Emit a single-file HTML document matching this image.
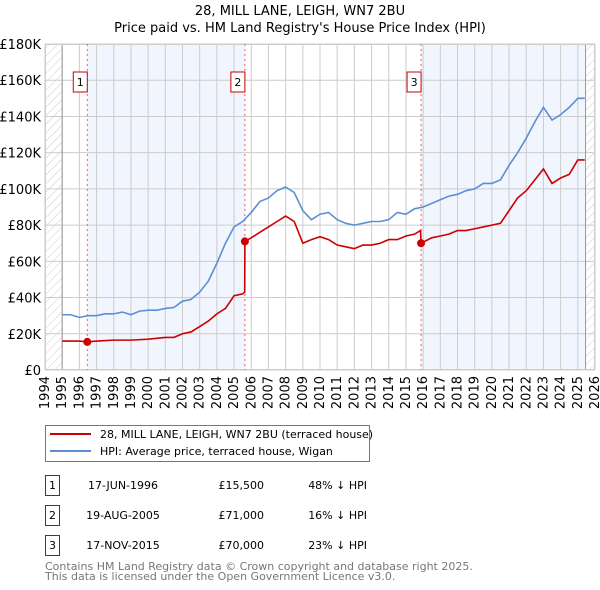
<!DOCTYPE html>
<html><head><meta charset="utf-8"><style>
body{margin:0;background:#fff;font-family:"Liberation Sans","DejaVu Sans",sans-serif}
svg{display:block}
</style></head><body>
<svg id="c" width="600" height="590" xmlns="http://www.w3.org/2000/svg" font-family="DejaVu Sans, Liberation Sans, sans-serif">
<defs><pattern id="hatch" width="6" height="6" patternUnits="userSpaceOnUse" patternTransform="rotate(45)"><line x1="0" y1="0" x2="0" y2="6" stroke="#ccc" stroke-width="1"/></pattern></defs>
<text x="300" y="15" text-anchor="middle" font-size="13">28, MILL LANE, LEIGH, WN7 2BU</text>
<text x="300" y="32" text-anchor="middle" font-size="13">Price paid vs. HM Land Registry's House Price Index (HPI)</text>
<g id="plot"></g>
<g>
<rect x="45.5" y="425.5" width="324" height="36" fill="#fff" stroke="#777"/>
<line x1="50" y1="434" x2="91" y2="434" stroke="#cc0000" stroke-width="2"/>
<text x="100" y="438" font-size="11">28, MILL LANE, LEIGH, WN7 2BU (terraced house)</text>
<line x1="50" y1="451" x2="91" y2="451" stroke="#5b8fd4" stroke-width="2"/>
<text x="100" y="455" font-size="11">HPI: Average price, terraced house, Wigan</text>
</g>
<g id="tbl" font-size="11"></g>
<text x="45" y="570" font-size="11" fill="#777">Contains HM Land Registry data © Crown copyright and database right 2025.</text>
<text x="45" y="580" font-size="11" fill="#777">This data is licensed under the Open Government Licence v3.0.</text>
</svg>
<script>
const hpiYears=[1995,1995.5,1996,1996.5,1997,1997.5,1998,1998.5,1999,1999.5,2000,2000.5,2001,2001.5,2002,2002.5,2003,2003.5,2004,2004.5,2005,2005.5,2006,2006.5,2007,2007.5,2008,2008.5,2009,2009.5,2010,2010.5,2011,2011.5,2012,2012.5,2013,2013.5,2014,2014.5,2015,2015.5,2016,2016.5,2017,2017.5,2018,2018.5,2019,2019.5,2020,2020.5,2021,2021.5,2022,2022.5,2023,2023.5,2024,2024.5,2025,2025.4];
const hpiValues=[30.5,30.5,29,30,30,31,31,32,30.5,32.5,33,33,34,34.5,38,39,43,49,59,70,79,82,87,93,95,99,101,98,88,83,86,87,83,81,80,81,82,82,83,87,86,89,90,92,94,96,97,99,100,103,103,105,113,120,128,137,145,138,141,145,150,150];
const ppYears=[1995,1996,1996.46,1997,1998,1999,2000,2001,2001.5,2002,2002.5,2003,2003.5,2004,2004.5,2005,2005.5,2005.62,2005.63,2006,2006.5,2007,2007.5,2008,2008.5,2009,2009.5,2010,2010.5,2011,2011.5,2012,2012.5,2013,2013.5,2014,2014.5,2015,2015.5,2015.85,2015.88,2016.5,2017,2017.5,2018,2018.5,2019,2019.5,2020,2020.5,2021,2021.5,2022,2022.5,2023,2023.5,2024,2024.5,2025,2025.4];
const ppValues=[16,16,15.5,16,16.5,16.5,17,18,18,20,21,24,27,31,34,41,42,43,71,73,76,79,82,85,82,70,72,73.6,72,69,68,67,69,69,70,72,72,74,75,77,70,73,74,75,77,77,78,79,80,81,88,95,99,105,111,103,106,108,116,116];
const sales=[{n:"1",t:1996.46,v:15.5,date:"17-JUN-1996",price:"£15,500",pct:"48% ↓ HPI"},{n:"2",t:2005.63,v:71,date:"19-AUG-2005",price:"£71,000",pct:"16% ↓ HPI"},{n:"3",t:2015.88,v:70,date:"17-NOV-2015",price:"£70,000",pct:"23% ↓ HPI"}];
const yTicks=[0,20,40,60,80,100,120,140,160,180];
const xTicks=[1994,1995,1996,1997,1998,1999,2000,2001,2002,2003,2004,2005,2006,2007,2008,2009,2010,2011,2012,2013,2014,2015,2016,2017,2018,2019,2020,2021,2022,2023,2024,2025,2026];
const X0=45,X1=595,Y0=370,Y1=44;
const sx=t=>X0+(t-1994)/32*(X1-X0);
const sy=v=>Y0-v/180*(Y0-Y1);
const NS="http://www.w3.org/2000/svg";
const g=document.getElementById('plot');
function mk(tag,attrs,parent){const e=document.createElementNS(NS,tag);for(const k in attrs)e.setAttribute(k,attrs[k]);(parent||g).appendChild(e);return e;}
let e;
e=mk('rect',{x:X0,y:Y1,width:sx(1995)-X0,height:Y0-Y1,fill:'url(#hatch)'});


e=mk('rect',{x:sx(2025.45),y:Y1,width:X1-sx(2025.45),height:Y0-Y1,fill:'url(#hatch)'});


e=mk('rect',{x:sx(sales[0].t),y:Y1,width:sx(sales[1].t)-sx(sales[0].t),height:Y0-Y1,fill:'#eef3fc',opacity:0.8});


e=mk('rect',{x:sx(sales[2].t),y:Y1,width:sx(2025.45)-sx(sales[2].t),height:Y0-Y1,fill:'#eef3fc',opacity:0.8});


yTicks.forEach(v=>{
 e=mk('line',{x1:X0,x2:X1,y1:sy(v),y2:sy(v),stroke:'#ccc','stroke-width':1});
 
 
 e=mk('text',{x:X0-4,y:sy(v)+5,'text-anchor':'end','font-size':13});
 e.textContent=v===0?'£0':'£'+v+'K';
 
 
});
xTicks.forEach(t=>{
 e=mk('line',{x1:sx(t),x2:sx(t),y1:Y1,y2:Y0,stroke:'#ccc','stroke-width':1});
 
 
 const x=sx(t)+4,y=Y0+6;
 e=mk('text',{x:x,y:y,'text-anchor':'end','font-size':13,transform:`rotate(-90 ${x} ${y})`});
 e.textContent=t;
 
 
});
e=mk('line',{x1:sx(1995),x2:sx(1995),y1:Y1,y2:Y0,stroke:'#999'});


e=mk('line',{x1:sx(2025.45),x2:sx(2025.45),y1:Y1,y2:Y0,stroke:'#999'});


e=mk('rect',{x:X0+0.5,y:Y1+0.5,width:X1-X0-1,height:Y0-Y1-1,fill:'none',stroke:'#ccc'});


sales.forEach(s=>{
 e=mk('line',{x1:sx(s.t),x2:sx(s.t),y1:Y1,y2:Y0,stroke:'#f06060','stroke-dasharray':'2,3'});
 
 
 e=mk('rect',{x:sx(s.t)-14,y:72,width:14,height:20,fill:'#fff',stroke:'#cc0000'});
 
 
 e=mk('text',{x:sx(s.t)-7,y:86,'text-anchor':'middle','font-size':11});
 e.textContent=s.n;
 
 
});
e=mk('polyline',{points:hpiYears.map((t,i)=>sx(t)+','+sy(hpiValues[i])).join(' '),fill:'none',stroke:'#5b8fd4','stroke-width':1.6});


e=mk('polyline',{points:ppYears.map((t,i)=>sx(t)+','+sy(ppValues[i])).join(' '),fill:'none',stroke:'#cc0000','stroke-width':1.6});


sales.forEach(s=>{
 e=mk('circle',{cx:sx(s.t),cy:sy(s.v),r:4,fill:'#cc0000'});
 
 
});
const tb=document.getElementById('tbl');
sales.forEach((s,i)=>{
 const y=475+i*30;
 e=mk('rect',{x:45.5,y:y+0.5,width:14,height:20,fill:'#fff',stroke:'#cc0000'},tb);
 
 
 e=mk('text',{x:52.5,y:y+14,'text-anchor':'middle'},tb);e.textContent=s.n;
 
 
 e=mk('text',{x:123,y:y+14,'text-anchor':'middle'},tb);e.textContent=s.date;
 
 
 e=mk('text',{x:264,y:y+14,'text-anchor':'end'},tb);e.textContent=s.price;
 
 
 e=mk('text',{x:367,y:y+14,'text-anchor':'end'},tb);e.textContent=s.pct;
 
 
});
</script>
</body></html>
